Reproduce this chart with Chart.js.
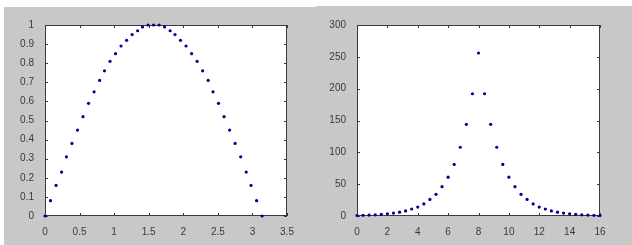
<!DOCTYPE html>
<html>
<head>
<meta charset="utf-8">
<script src="https://cdn.jsdelivr.net/npm/chart.js@4"></script>
<style>
  html, body { margin: 0; padding: 0; background: #fff; }
  #wrap { position: relative; width: 632px; height: 245px; overflow: hidden; }
  canvas { position: absolute; top: 0; }
  #sinChart { left: 0; }
  #peakChart { left: 316px; }
</style>
</head>
<body>
<div id="wrap">
  <canvas id="sinChart" width="316" height="245"></canvas>
  <canvas id="peakChart" width="316" height="245"></canvas>
</div>
<script>
// left plot: points
const sinX = [0, 0.08, 0.16, 0.24, 0.31, 0.39, 0.47, 0.55, 0.63, 0.71, 0.79, 0.86, 0.94, 1.02, 1.10, 1.18, 1.26, 1.34, 1.41, 1.49, 1.57,
              1.65, 1.73, 1.81, 1.88, 1.96, 2.04, 2.12, 2.20, 2.28, 2.36, 2.43, 2.51, 2.59, 2.67, 2.75, 2.83, 2.91, 2.98, 3.06, 3.14];
const sinY = [0, 0.08, 0.16, 0.23, 0.31, 0.38, 0.45, 0.52, 0.59, 0.65, 0.71, 0.76, 0.81, 0.85, 0.89, 0.92, 0.95, 0.97, 0.99, 1.00, 1.00,
              1.00, 0.99, 0.97, 0.95, 0.92, 0.89, 0.85, 0.81, 0.76, 0.71, 0.65, 0.59, 0.52, 0.45, 0.38, 0.31, 0.23, 0.16, 0.08, 0];

// right plot
const peakX = [0, 0.4, 0.8, 1.2, 1.6, 2, 2.4, 2.8, 3.2, 3.6, 4, 4.4, 4.8, 5.2, 5.6, 6, 6.4, 6.8, 7.2, 7.6, 8,
               8.4, 8.8, 9.2, 9.6, 10, 10.4, 10.8, 11.2, 11.6, 12, 12.4, 12.8, 13.2, 13.6, 14, 14.4, 14.8, 15.2, 15.6, 16];
const peakY = [0.8, 1.1, 1.4, 1.9, 2.6, 3.4, 4.6, 6, 8, 11, 14, 19, 26, 34, 46, 61, 81, 108, 144, 192, 256,
               192, 144, 108, 81, 61, 46, 34, 26, 19, 14, 11, 8, 6, 4.6, 3.4, 2.6, 1.9, 1.4, 1.1, 0.8];

// axis ranges: [min, max, step]
const sinXTicks = [0, 3.5, 0.5];
const sinYTicks = [0, 1, 0.1];
const peakXTicks = [0, 16, 2];
const peakYTicks = [0, 300, 50];

const tickFont = { family: 'Liberation Sans', size: 10 };
const tickColor = '#3a3a3a';
const figGray = '#c8c8c8';

const fmt = v => String(Number(Number(v).toFixed(4)));

// gray figure, white axes area, box and inward tick marks on all four sides
function matlabAxes(bgLeft, bgTop) {
    return {
        id: 'matlabAxes',
        beforeDraw(chart) {
            const a = chart.chartArea;
            const ctx = chart.ctx;
            ctx.save();
            ctx.fillStyle = figGray;
            ctx.fillRect(bgLeft, bgTop, chart.width - bgLeft, chart.height - bgTop);
            ctx.fillStyle = '#fff';
            ctx.fillRect(a.left, a.top, a.right - a.left, a.bottom - a.top);
            ctx.restore();
        },
        beforeDatasetsDraw(chart) {
            const a = chart.chartArea;
            const ctx = chart.ctx;
            const len = 3;
            ctx.save();
            ctx.strokeStyle = '#3a3a3a';
            ctx.lineWidth = 1;
            ctx.strokeRect(a.left + 0.5, a.top + 0.5, a.right - a.left - 1, a.bottom - a.top - 1);
            ctx.beginPath();
            chart.scales.x.ticks.forEach(t => {
                const px = Math.round(chart.scales.x.getPixelForValue(t.value)) + 0.5;
                ctx.moveTo(px, a.bottom);
                ctx.lineTo(px, a.bottom - len);
                ctx.moveTo(px, a.top);
                ctx.lineTo(px, a.top + len);
            });
            chart.scales.y.ticks.forEach(t => {
                const py = Math.round(chart.scales.y.getPixelForValue(t.value)) + 0.5;
                ctx.moveTo(a.left, py);
                ctx.lineTo(a.left + len, py);
                ctx.moveTo(a.right, py);
                ctx.lineTo(a.right - len, py);
            });
            ctx.stroke();
            ctx.restore();
        }
    };
}

function makeChart(id, xs, ys, xTicks, yTicks, yWidth, rightPad, bgLeft, bgTop) {
    const ctx = document.getElementById(id).getContext('2d');
    return new Chart(ctx, {
        type: 'scatter',
        data: {
            datasets: [{
                data: xs.map((x, i) => ({ x: x, y: ys[i] })),
                backgroundColor: '#00008b',
                borderColor: '#00008b',
                pointRadius: 1.6,
                borderWidth: 0,
                clip: false
            }]
        },
        options: {
            responsive: false,
            animation: false,
            layout: { padding: { left: 0, right: rightPad, top: 25, bottom: 9 } },
            plugins: { legend: { display: false }, tooltip: { enabled: false } },
            scales: {
                x: {
                    type: 'linear',
                    min: xTicks[0],
                    max: xTicks[1],
                    grid: { display: false },
                    border: { display: false },
                    ticks: { stepSize: xTicks[2], font: tickFont, color: tickColor, padding: 2, maxRotation: 0, callback: fmt },
                    afterFit: s => { s.height = 20; }
                },
                y: {
                    type: 'linear',
                    min: yTicks[0],
                    max: yTicks[1],
                    grid: { display: false },
                    border: { display: false },
                    ticks: { stepSize: yTicks[2], font: tickFont, color: tickColor, padding: 3, callback: fmt },
                    afterFit: s => { s.width = yWidth; }
                }
            }
        },
        plugins: [matlabAxes(bgLeft, bgTop)]
    });
}

makeChart('sinChart', sinX, sinY, sinXTicks, sinYTicks, 45, 29, 4, 7);
makeChart('peakChart', peakX, peakY, peakXTicks, peakYTicks, 41, 32, 0, 6);
</script>
</body>
</html>
